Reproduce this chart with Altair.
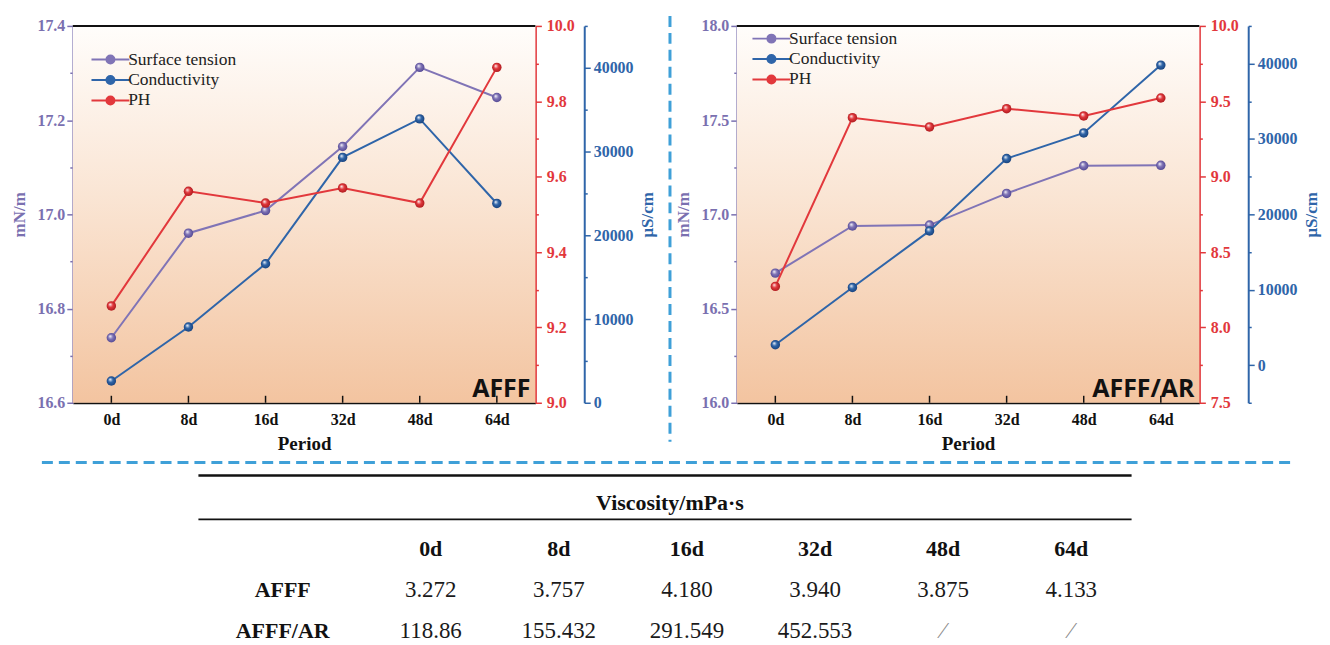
import altair as alt
import pandas as pd

# ---------------- data ----------------
periods = ["0d", "8d", "16d", "32d", "48d", "64d"]
series_names = ["Surface tension", "Conductivity", "PH"]
series_colors = ["#8074b6", "#2f65a9", "#e2383c"]
series_dark = ["#4f4490", "#173f78", "#a8181c"]

afff_surface_tension = [16.738, 16.960, 17.008, 17.144, 17.312, 17.248]
afff_conductivity = [2600, 9050, 16600, 29300, 33900, 23800]
afff_ph = [9.257, 9.561, 9.530, 9.570, 9.530, 9.890]

ar_surface_tension = [16.688, 16.938, 16.943, 17.111, 17.258, 17.260]
ar_conductivity = [2700, 10300, 17800, 27400, 30800, 39800]
ar_ph = [8.272, 9.391, 9.330, 9.451, 9.403, 9.522]

afff_st_ticks = [16.6, 16.7, 16.8, 16.9, 17.0, 17.1, 17.2, 17.3, 17.4]
afff_ph_ticks = [9.0, 9.1, 9.2, 9.3, 9.4, 9.5, 9.6, 9.7, 9.8, 9.9, 10.0]
afff_cond_ticks = [0, 5000, 10000, 15000, 20000, 25000, 30000, 35000, 40000, 45000]
ar_st_ticks = [16.0, 16.25, 16.5, 16.75, 17.0, 17.25, 17.5, 17.75, 18.0]
ar_ph_ticks = [7.5, 7.75, 8.0, 8.25, 8.5, 8.75, 9.0, 9.25, 9.5, 9.75, 10.0]
ar_cond_ticks = [-5000, 0, 5000, 10000, 15000, 20000, 25000, 30000, 35000, 40000, 45000]

panel_labels = ["AFFF", "AFFF/AR"]

table_title = "Viscosity/mPa·s"
table_rows = ["AFFF", "AFFF/AR"]
visc_afff = ["3.272", "3.757", "4.180", "3.940", "3.875", "4.133"]
visc_ar = ["118.86", "155.432", "291.549", "452.553", "⁄", "⁄"]

# ---------------- style ----------------
W, H = 464, 378
SERIF = "Liberation Serif"
SANS = "Open Sans"
PURPLE_TXT = "#7a70b0"
SEP_COLOR = "#3fa0d8"

LEG_PATH = ("M-3.17,0L3.17,0"
            "M-0.667,0A0.667,0.667,0,1,0,0.667,0A0.667,0.667,0,1,0,-0.667,0"
            "M-0.367,0A0.367,0.367,0,1,0,0.367,0A0.367,0.367,0,1,0,-0.367,0"
            "M-0.1,0A0.1,0.1,0,1,0,0.1,0A0.1,0.1,0,1,0,-0.1,0")

X = alt.X("period:N", sort=periods,
          scale=alt.Scale(type="point", domain=periods, padding=0.5),
          axis=alt.Axis(title="Period", ticks=False, domainColor="#111", domainWidth=2,
                        labelFont=SERIF, labelFontSize=16, labelFontWeight="bold",
                        labelColor="#111", labelPadding=9, labelAngle=0,
                        titleFont=SERIF, titleFontSize=19, titleFontWeight="bold",
                        titleColor="#111", titlePadding=7))

one = alt.Data(values=[{}])


def y_axis(orient, color, ticks, test, fmt, title=None, offset=0, label_pad=3,
           title_pad=8, title_baseline="bottom"):
    kw = dict(
        orient=orient, values=ticks, grid=False, offset=offset,
        domainColor=color, domainWidth=2, tickColor=color, tickWidth=1.5,
        tickSize={"condition": {"test": test, "value": 6}, "value": 3},
        labelExpr=f"({test}) ? format(datum.value, '{fmt}') : ''",
        labelColor=color, labelFont=SERIF, labelFontSize=16, labelFontWeight="bold",
        labelPadding=label_pad, labelOverlap=False,
    )
    if title is not None:
        kw.update(title=title, titleColor=color, titleFont=SERIF, titleFontSize=17,
                  titleFontWeight="bold", titlePadding=title_pad, titleAngle=270,
                  titleBaseline=title_baseline)
    else:
        kw.update(title=None)
    return alt.Axis(**kw)


def series_layer(name, idx, values, domain, axis, legend):
    df = pd.DataFrame({"period": periods, "value": values, "series": name})
    y = alt.Y("value:Q", scale=alt.Scale(domain=domain, nice=False, zero=False), axis=axis)
    line = alt.Chart(df).mark_line(strokeWidth=2).encode(
        x=X, y=y,
        color=alt.Color("series:N",
                        scale=alt.Scale(domain=series_names, range=series_colors),
                        legend=legend))
    grad = alt.RadialGradient(
        gradient="radial", x1=0.36, y1=0.32, r1=0, x2=0.5, y2=0.5, r2=0.55,
        stops=[alt.GradientStop(color="#ffffff", offset=0),
               alt.GradientStop(color=series_colors[idx], offset=0.45),
               alt.GradientStop(color=series_dark[idx], offset=1)])
    pts = alt.Chart(df).mark_circle(size=90, opacity=1, fill=grad).encode(x=X, y=y)
    return alt.layer(line, pts)


def panel(label, st, cond, ph, st_dom, ph_dom, cond_dom, st_ticks, ph_ticks, cond_ticks,
          test_main, test_cond, leg_x, leg_y, with_sep):
    legend = alt.Legend(orient="none", legendX=leg_x, legendY=leg_y, title=None,
                        symbolType=LEG_PATH, symbolSize=144, symbolStrokeWidth=2,
                        labelFont=SERIF, labelFontSize=17.5, labelColor="#222",
                        labelOffset=9, rowPadding=1.5, padding=0)
    bg = alt.Chart(one).mark_rect(
        fill=alt.LinearGradient(
            gradient="linear", x1=0, x2=0, y1=0, y2=1,
            stops=[alt.GradientStop(color="#fffdfb", offset=0),
                   alt.GradientStop(color="#fae5d4", offset=0.45),
                   alt.GradientStop(color="#f3c4a0", offset=1)])
    ).encode(x=alt.value(0), x2=alt.value(W), y=alt.value(0), y2=alt.value(H))

    top_border = alt.Chart(one).mark_rule(color="#111", strokeWidth=2).encode(
        x=alt.value(0), x2=alt.value(W), y=alt.value(0))

    s1 = series_layer(series_names[0], 0, st, st_dom,
                      y_axis("left", PURPLE_TXT, st_ticks, test_main, ".1f",
                             title="mN/m", label_pad=2, title_pad=8,
                             title_baseline="bottom"), legend)
    s2 = series_layer(series_names[1], 1, cond, cond_dom,
                      y_axis("right", series_colors[1], cond_ticks, test_cond, "d",
                             title="μS/cm", offset=49, label_pad=3, title_pad=6,
                             title_baseline="top"), legend)
    s3 = series_layer(series_names[2], 2, ph, ph_dom,
                      y_axis("right", series_colors[2], ph_ticks, test_main, ".1f",
                             label_pad=5), legend)

    xticks = alt.Chart(pd.DataFrame({"period": periods})).mark_rule(
        color="#111", strokeWidth=1.5).encode(x=X, y=alt.value(H - 7), y2=alt.value(H))

    txt = alt.Chart(one).mark_text(
        text=label, font=SANS, fontWeight="bold", fontSize=25, align="right",
        baseline="alphabetic", color="#111"
    ).encode(x=alt.value(W - 5), y=alt.value(H - 6))

    layers = [bg]
    if with_sep:
        vsep = alt.Chart(one).mark_rule(color=SEP_COLOR, strokeWidth=3, strokeDash=[11, 6]).encode(
            x=alt.value(599), y=alt.value(-10), y2=alt.value(417))
        layers.append(vsep)
    layers += [s1, s2, s3, xticks, top_border, txt]
    return alt.layer(*layers).resolve_scale(y="independent")


# ---------------- table (drawn below the left panel, spanning the page) ----------------
table_cols = ["Sample"] + periods
TX = alt.X("col:N", sort=table_cols,
           scale=alt.Scale(type="point", domain=table_cols, range=[230.5, 1001.5], padding=0),
           axis=None)
row_keys = ["header"] + table_rows
TY = alt.Y("row:N", sort=row_keys,
           scale=alt.Scale(type="point", domain=row_keys, range=[525, 607], padding=0),
           axis=None)

header_df = pd.DataFrame({"col": periods, "row": "header", "txt": periods})
label_df = pd.DataFrame({"col": "Sample", "row": table_rows, "txt": table_rows})
vals_df = pd.DataFrame({
    "col": periods * 2,
    "row": [table_rows[0]] * 6 + [table_rows[1]] * 6,
    "txt": visc_afff + visc_ar,
})

t_header = alt.Chart(header_df).mark_text(
    font=SERIF, fontSize=22, fontWeight="bold", color="#111", baseline="middle"
).encode(x=TX, y=TY, text="txt:N")
t_labels = alt.Chart(label_df).mark_text(
    font=SERIF, fontSize=22, fontWeight="bold", color="#111", baseline="middle", dx=-20
).encode(x=TX, y=TY, text="txt:N")
t_vals = alt.Chart(vals_df).mark_text(
    font=SERIF, fontSize=23, baseline="middle"
).encode(x=TX, y=TY, text="txt:N",
         color=alt.condition(alt.datum.txt == "⁄", alt.value("#8a8a8a"), alt.value("#1a1a1a")))
t_title = alt.Chart(one).mark_text(
    text=table_title, font=SERIF, fontSize=22, fontWeight="bold", color="#111", baseline="middle"
).encode(x=alt.value(599), y=alt.value(479))
rule_top = alt.Chart(one).mark_rule(color="#111", strokeWidth=2.5).encode(
    x=alt.value(126), x2=alt.value(1062), y=alt.value(451))
rule_mid = alt.Chart(one).mark_rule(color="#111", strokeWidth=1.8).encode(
    x=alt.value(126), x2=alt.value(1062), y=alt.value(495))
hsep = alt.Chart(one).mark_rule(color=SEP_COLOR, strokeWidth=3, strokeDash=[11, 6]).encode(
    x=alt.value(-31), x2=alt.value(1226), y=alt.value(438))

table = alt.layer(hsep, rule_top, rule_mid, t_title, t_header, t_labels, t_vals)

left_plot = panel(panel_labels[0], afff_surface_tension, afff_conductivity, afff_ph,
                  [16.6, 17.4], [9.0, 10.0], [0, 45000],
                  afff_st_ticks, afff_ph_ticks, afff_cond_ticks,
                  "round(datum.value*10) % 2 == 0", "round(datum.value/5000) % 2 == 0",
                  29, 25, True)
left = alt.layer(left_plot, table).resolve_scale(
    x="independent", y="independent").properties(width=W, height=H)

right = panel(panel_labels[1], ar_surface_tension, ar_conductivity, ar_ph,
              [16.0, 18.0], [7.5, 10.0], [-5000, 45000],
              ar_st_ticks, ar_ph_ticks, ar_cond_ticks,
              "round(datum.value*4) % 2 == 0", "round(datum.value/5000) % 2 == 0",
              26, 4, False).properties(width=W, height=H)

chart = alt.hconcat(left, right, spacing=202, bounds="flush").resolve_scale(
    color="independent").resolve_legend(color="independent").properties(
    padding={"left": 2, "top": 5, "right": 2, "bottom": 0}
).configure_view(stroke="transparent")

chart.save("out.html", embed_options={"renderer": "svg", "actions": False})
